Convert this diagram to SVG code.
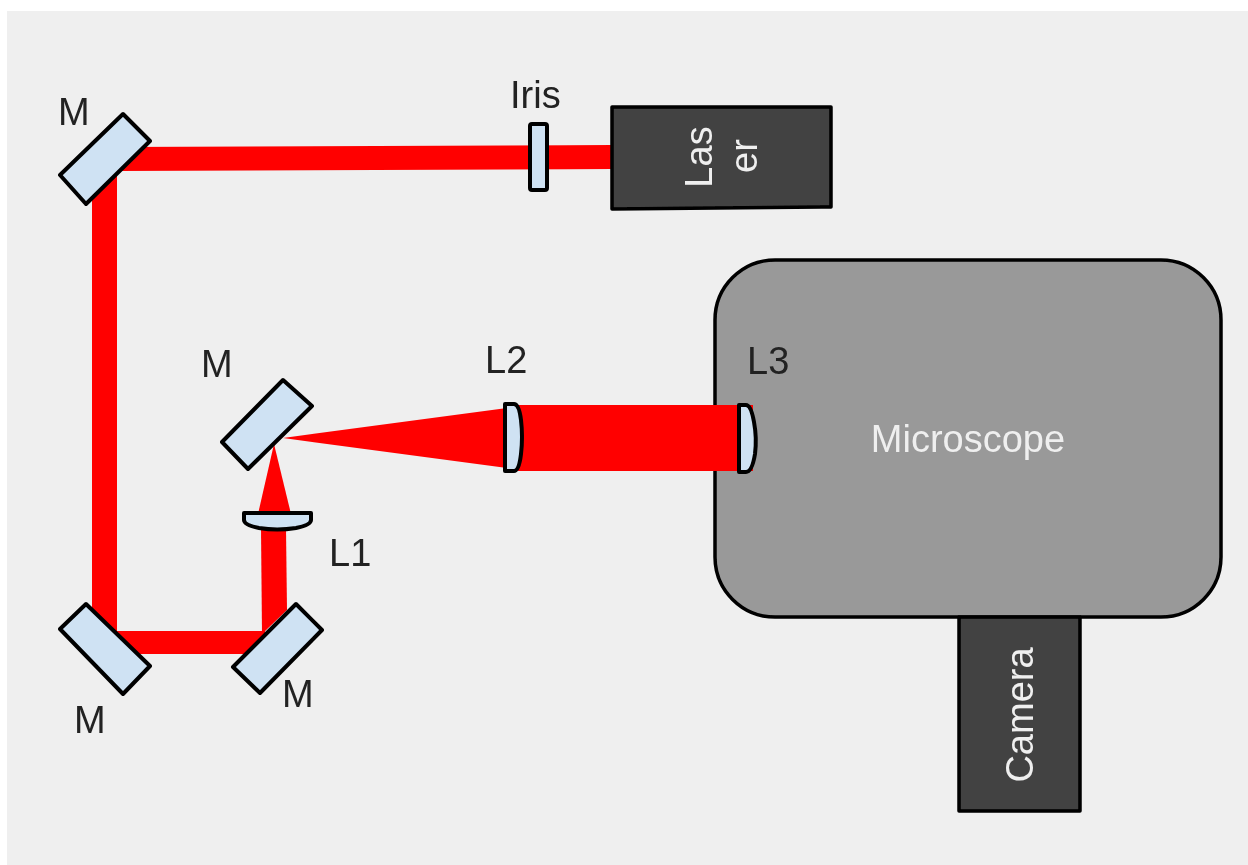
<svg xmlns="http://www.w3.org/2000/svg" width="1248" height="865" viewBox="0 0 1248 865">
<style>
.beam{fill:#f00}
.optic{fill:#cfe2f3;stroke:#000;stroke-width:4;stroke-linejoin:round}
.lbl{font-family:"Liberation Sans",Arial,sans-serif;font-size:38px;fill:#222}
.box{fill:#434343;stroke:#000;stroke-width:3.5;stroke-linejoin:round}
.wt{font-family:"Liberation Sans",Arial,sans-serif;font-size:38px;fill:#efefef;text-anchor:middle}
</style>
<defs><filter id="soft" filterUnits="userSpaceOnUse" x="0" y="0" width="1248" height="865"><feGaussianBlur stdDeviation="0.6"/></filter></defs>
<rect x="7" y="11" width="1241" height="854" fill="#efefef"/>
<g filter="url(#soft)">
<g id="microscope"><rect x="715" y="260" width="506" height="357" rx="60" ry="60" fill="#999" stroke="#000" stroke-width="3.5"/><text class="wt" x="968" y="452">Microscope</text></g>
<g id="connectors">
<polygon class="beam" points="120,147 612,145 612,169 120,171"/>
<rect class="beam" x="92" y="175" width="25" height="460"/>
<polygon class="beam" points="110,631 265,631 265,654 140,654"/>
<polygon class="beam" points="261,528 286,528 287,610 262,634"/>
<polygon class="beam" points="258,514 291,514 274,444"/>
<polygon class="beam" points="283,438 507,408 507,468"/>
<rect class="beam" x="518" y="405" width="235" height="66"/>
</g>
<g id="mirror-top"><polygon class="optic" points="60,175 123,114 150,141 86,204"/><text class="lbl" x="58" y="125">M</text></g>
<g id="mirror-left"><polygon class="optic" points="60,629 86,604 150,666 123,694"/><text class="lbl" x="74" y="733">M</text></g>
<g id="mirror-right"><polygon class="optic" points="233,667 296,604 322,630 260,693"/><text class="lbl" x="282" y="707">M</text></g>
<g id="mirror-center"><polygon class="optic" points="222,442 283,380 312,406 248,469"/><text class="lbl" x="201" y="377">M</text></g>
<g id="iris"><rect class="optic" x="530" y="124" width="17" height="66" rx="2"/><text class="lbl" x="510" y="108">Iris</text></g>
<g id="laser"><polygon class="box" points="612,107 831,107 831,207 612,209"/><text class="wt" transform="translate(712,157) rotate(-90)">Las</text><text class="wt" transform="translate(757,156) rotate(-90)">er</text></g>
<g id="camera"><rect class="box" x="959" y="617" width="121" height="194"/><text class="wt" transform="translate(1033,715) rotate(-90)">Camera</text></g>
<g id="lens-l1"><path class="optic" d="M244 513H311V520Q311 525 296 528Q277 531 259 528Q244 525 244 520Z"/><text class="lbl" x="329" y="566">L1</text></g>
<g id="lens-l2"><path class="optic" d="M505 404H514Q519 404 521 420Q523 437 521 454Q519 471 514 471H505Z"/><text class="lbl" x="485" y="373">L2</text></g>
<g id="lens-l3"><path class="optic" d="M739 405H746Q751 405 754 422Q757 438 755 454Q752 472 746 472H739Z"/><text class="lbl" x="747" y="374">L3</text></g>
</g>
</svg>
